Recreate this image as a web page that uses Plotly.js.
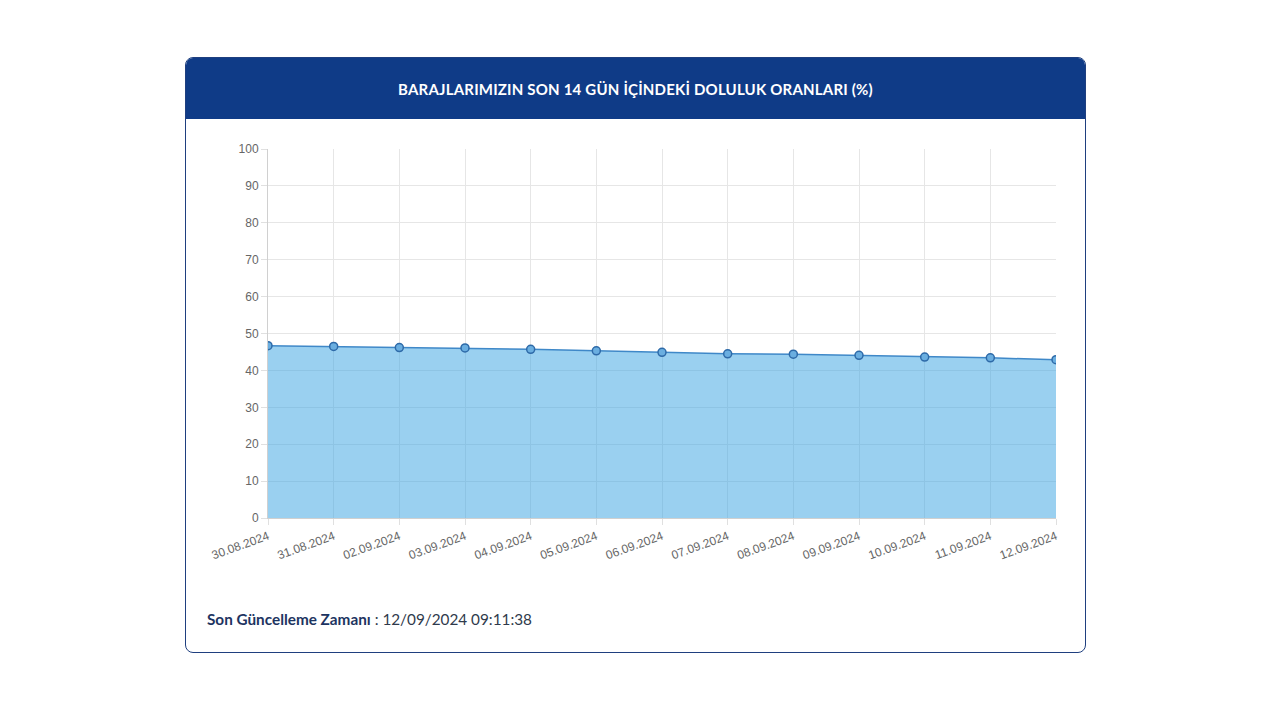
<!DOCTYPE html>
<html>
<head>
<meta charset="utf-8">
<script src="https://cdn.plot.ly/plotly-3.0.1.min.js"></script>
<style>
  html, body { margin:0; padding:0; width:1280px; height:720px; background:#ffffff; overflow:hidden; }
  #card { position:absolute; left:185px; top:57px; width:899px; height:594px; border:1px solid #1f3f7f; border-radius:8px; background:#fff; box-sizing:content-box; overflow:hidden; }
  #header { position:absolute; left:0; top:0; width:100%; height:61px; background:#0f3b87; color:#fff; font-family:Lato, "Noto Sans", sans-serif; font-weight:bold; font-size:15px; display:flex; align-items:center; justify-content:center; letter-spacing:0.2px; }
  #footer { position:absolute; left:21px; top:552px; font-family:Lato, "Noto Sans", sans-serif; font-size:15.3px; color:#2f3a4c; }
  #footer b { color:#1d3461; }
  #chart { position:absolute; left:0; top:0; width:1280px; height:720px; }
</style>
</head>
<body>
<div id="card">
  <div id="header">BARAJLARIMIZIN SON 14 GÜN İÇİNDEKİ DOLULUK ORANLARI (%)</div>
  <div id="footer"><b>Son Güncelleme Zamanı</b> : 12/09/2024 09:11:38</div>
</div>
<div id="chart"></div>
<script>
const dates = ["30.08.2024","31.08.2024","02.09.2024","03.09.2024","04.09.2024","05.09.2024","06.09.2024","07.09.2024","08.09.2024","09.09.2024","10.09.2024","11.09.2024","12.09.2024"];
const fillRates = [46.7, 46.5, 46.2, 46.1, 45.7, 45.3, 44.9, 44.5, 44.4, 44.1, 43.6, 43.4, 42.9];
const yTicks = [0,10,20,30,40,50,60,70,80,90,100];

const trace = {
  x: dates,
  y: fillRates,
  type: 'scatter',
  mode: 'lines+markers',
  fill: 'tozeroy',
  fillcolor: 'rgba(54,162,225,0.5)',
  line: { color: '#3f88c8', width: 1.5 },
  marker: { size: 8, symbol: 'circle', color: '#6aaee0', line: { color: '#2e6aa8', width: 1.5 } },
  hoverinfo: 'x+y'
};

const layout = {
  width: 1280, height: 720,
  margin: { l: 268, r: 224, t: 149, b: 202, pad: 0 },
  paper_bgcolor: 'rgba(0,0,0,0)',
  plot_bgcolor: 'rgba(0,0,0,0)',
  showlegend: false,
  font: { family: '"Liberation Sans", Arial, sans-serif', size: 12, color: '#666' },
  xaxis: {
    type: 'category',
    range: [0, dates.length - 1],
    showgrid: true, gridcolor: '#e6e6e6', gridwidth: 1,
    ticks: 'outside', ticklen: 6, tickcolor: '#e0e0e0',
    tickangle: -20,
    showline: true, linecolor: '#d0d0d0', linewidth: 1,
    zeroline: false, fixedrange: true,
    tickfont: { size: 12, color: '#666666' }
  },
  yaxis: {
    range: [0, 100],
    tickvals: yTicks,
    showgrid: true, gridcolor: '#e6e6e6', gridwidth: 1,
    ticks: 'outside', ticklen: 6, tickcolor: '#e0e0e0',
    showline: true, linecolor: '#d0d0d0', linewidth: 1,
    zeroline: false, fixedrange: true,
    tickfont: { size: 12, color: '#666666' }
  }
};

Plotly.newPlot('chart', [trace], layout, { displayModeBar: false, staticPlot: true });
</script>
</body>
</html>
